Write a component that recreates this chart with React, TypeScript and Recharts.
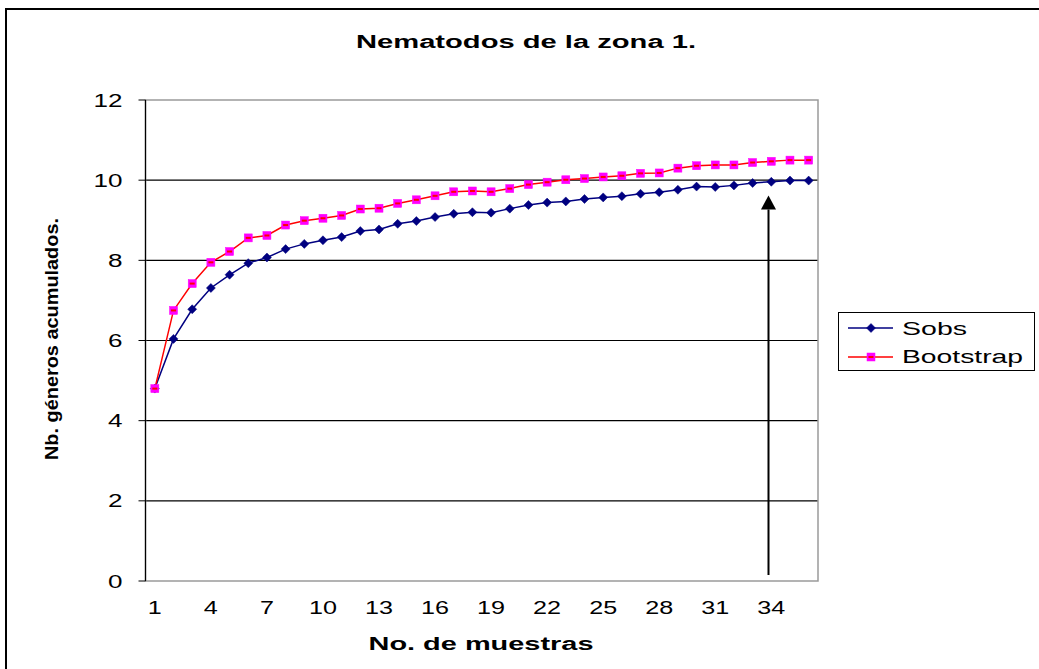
import React from 'react';
import {
  LineChart,
  Line,
  XAxis,
  YAxis,
  CartesianGrid,
  Legend,
  ReferenceLine,
  ReferenceDot,
  ReferenceArea,
  Label,
} from 'recharts';

const samples = [
  1, 2, 3, 4, 5, 6, 7, 8, 9, 10, 11, 12, 13, 14, 15, 16, 17, 18,
  19, 20, 21, 22, 23, 24, 25, 26, 27, 28, 29, 30, 31, 32, 33, 34, 35, 36,
];
const sobs = [
  4.8, 6.04, 6.78, 7.31, 7.64, 7.93, 8.07, 8.28, 8.41, 8.5, 8.58, 8.73,
  8.77, 8.91, 8.98, 9.08, 9.16, 9.2, 9.19, 9.29, 9.38, 9.44, 9.47, 9.53,
  9.57, 9.6, 9.66, 9.7, 9.76, 9.84, 9.83, 9.87, 9.93, 9.96, 9.99, 9.99,
];
const bootstrap = [
  4.8, 6.75, 7.42, 7.95, 8.22, 8.56, 8.62, 8.88, 8.99, 9.05, 9.12, 9.28,
  9.3, 9.42, 9.51, 9.61, 9.71, 9.73, 9.71, 9.79, 9.89, 9.95, 10.01, 10.04,
  10.08, 10.11, 10.17, 10.18, 10.3, 10.36, 10.38, 10.38, 10.44, 10.47, 10.5, 10.5,
];
const xTickLabels = [1, 4, 7, 10, 13, 16, 19, 22, 25, 28, 31, 34];
const yTicks = [0, 2, 4, 6, 8, 10, 12];
const gridValues = [2, 4, 6, 8, 10];
const arrowSample = 33.85;
const arrowBottom = 0.15;
const arrowHeadBase = 9.27;

const data = samples.map((s, i) => ({ x: s, sobs: sobs[i], bootstrap: bootstrap[i] }));
const boundaryTicks = samples.map((s) => s - 0.5).concat([samples[samples.length - 1] + 0.5]);

const FONT = '"Liberation Sans", Arial, sans-serif';
const NAVY = '#000080';
const RED = '#FF0000';
const MAGENTA = '#FF00FF';

const Diamond = (props: any) => {
  const { cx, cy } = props;
  if (cx == null || cy == null) return null;
  const r = 4.5;
  return (
    <polygon
      points={`${cx},${cy - r} ${cx + r},${cy} ${cx},${cy + r} ${cx - r},${cy}`}
      fill={NAVY}
      stroke={NAVY}
      strokeWidth={0.5}
    />
  );
};

const Square = (props: any) => {
  const { cx, cy } = props;
  if (cx == null || cy == null) return null;
  return (
    <g>
      <rect x={cx - 4} y={cy - 4} width={8} height={8} fill={MAGENTA} stroke={MAGENTA} strokeWidth={0.5} />
      <rect x={cx - 2.5} y={cy - 1} width={5} height={2} fill={RED} />
    </g>
  );
};

const ArrowHead = (props: any) => {
  const { cx, cy } = props;
  if (cx == null || cy == null) return null;
  return <polygon points={`${cx - 7.5},${cy} ${cx + 7.5},${cy} ${cx},${cy - 14}`} fill="#000" />;
};

const YTick = (props: any) => {
  const { x, y, payload } = props;
  const s = String(payload.value);
  return (
    <text
      x={x}
      y={y + 6.5}
      textAnchor="end"
      fontFamily={FONT}
      fontSize={18}
      fill="#000"
      textLength={s.length * 14.5}
      lengthAdjust="spacingAndGlyphs"
    >
      {s}
    </text>
  );
};

const XTick = (props: any) => {
  const { x, y, payload } = props;
  const s = String(payload.value);
  return (
    <text
      x={x}
      y={y + 33}
      textAnchor="middle"
      fontFamily={FONT}
      fontSize={18}
      fill="#000"
      textLength={s.length * 14}
      lengthAdjust="spacingAndGlyphs"
    >
      {s}
    </text>
  );
};

const LegendBox = () => (
  <svg width={197} height={59} style={{ display: 'block' }}>
    <rect x={0.5} y={0.5} width={196} height={58} fill="#fff" stroke="#000" strokeWidth={1} />
    <line x1={10} y1={16} x2={55} y2={16} stroke={NAVY} strokeWidth={1.5} />
    <Diamond cx={33} cy={16} />
    <text x={64} y={23} fontFamily={FONT} fontSize={18} fill="#000" textLength={65} lengthAdjust="spacingAndGlyphs">
      Sobs
    </text>
    <line x1={10} y1={45} x2={55} y2={45} stroke={RED} strokeWidth={1.5} />
    <Square cx={33} cy={45} />
    <text x={64} y={51} fontFamily={FONT} fontSize={18} fill="#000" textLength={121} lengthAdjust="spacingAndGlyphs">
      Bootstrap
    </text>
  </svg>
);

export default function App() {
  return (
    <div
      style={{
        position: 'fixed',
        left: 0,
        top: 0,
        width: 1039,
        height: 669,
        overflow: 'hidden',
        background: '#fff',
      }}
    >
      <div
        style={{
          position: 'absolute',
          left: 5,
          top: 8,
          width: 1060,
          height: 700,
          border: '2px solid #000',
          boxSizing: 'border-box',
        }}
      />
      <svg style={{ position: 'absolute', left: 0, top: 0 }} width={1039} height={80}>
        <text
          x={526}
          y={48}
          textAnchor="middle"
          fontFamily={FONT}
          fontWeight="bold"
          fontSize={18}
          fill="#000"
          textLength={340}
          lengthAdjust="spacingAndGlyphs"
        >
          Nematodos de la zona 1.
        </text>
      </svg>
      <div style={{ position: 'absolute', left: 0, top: 0 }}>
        <LineChart
          width={1039}
          height={669}
          data={data}
          margin={{ top: 100, right: 221, bottom: 48, left: 85.5 }}
        >
          <ReferenceArea
            x1={0.5}
            x2={36.5}
            y1={0}
            y2={12}
            xAxisId="marks"
            fill="none"
            stroke="#9a9a9a"
            strokeWidth={1.5}
            ifOverflow="visible"
          />
          <CartesianGrid
            horizontal
            vertical={false}
            stroke="#000"
            strokeWidth={1.2}
            horizontalValues={gridValues}
            xAxisId="marks"
          />
          <XAxis
            xAxisId="marks"
            dataKey="x"
            type="number"
            domain={[0.5, 36.5]}
            ticks={boundaryTicks}
            interval={0}
            height={0}
            tick={false}
            tickSize={6}
            axisLine={{ stroke: '#000', strokeWidth: 1.2 }}
            tickLine={{ stroke: '#000', strokeWidth: 1 }}
          />
          <XAxis
            xAxisId="labels"
            dataKey="x"
            type="number"
            domain={[0.5, 36.5]}
            ticks={xTickLabels}
            interval={0}
            height={40}
            tickSize={0}
            tickMargin={0}
            axisLine={false}
            tickLine={false}
            tick={<XTick />}
          >
            <Label
              content={() => (
                <text
                  x={481}
                  y={650}
                  textAnchor="middle"
                  fontFamily={FONT}
                  fontWeight="bold"
                  fontSize={18}
                  fill="#000"
                  textLength={225}
                  lengthAdjust="spacingAndGlyphs"
                >
                  No. de muestras
                </text>
              )}
            />
          </XAxis>
          <YAxis
            type="number"
            domain={[0, 12]}
            ticks={yTicks}
            interval={0}
            width={60}
            tickSize={7}
            tickMargin={16}
            axisLine={{ stroke: '#000', strokeWidth: 1.2 }}
            tickLine={{ stroke: '#000', strokeWidth: 1 }}
            tick={<YTick />}
          >
            <Label
              content={() => (
                <text
                  x={58}
                  y={339}
                  transform="rotate(-90, 58, 339)"
                  textAnchor="middle"
                  fontFamily={FONT}
                  fontWeight="bold"
                  fontSize={18}
                  fill="#000"
                  textLength={242}
                  lengthAdjust="spacingAndGlyphs"
                >
                  Nb. géneros acumulados.
                </text>
              )}
            />
          </YAxis>
          <ReferenceLine
            xAxisId="labels"
            segment={[
              { x: arrowSample, y: arrowBottom },
              { x: arrowSample, y: arrowHeadBase },
            ]}
            stroke="#000"
            strokeWidth={2}
          />
          <ReferenceDot
            xAxisId="labels"
            x={arrowSample}
            y={arrowHeadBase}
            r={8}
            shape={<ArrowHead />}
          />
          <Line
            xAxisId="labels"
            type="linear"
            dataKey="sobs"
            name="Sobs"
            stroke={NAVY}
            strokeWidth={1.5}
            dot={<Diamond />}
            activeDot={false}
            isAnimationActive={false}
          />
          <Line
            xAxisId="labels"
            type="linear"
            dataKey="bootstrap"
            name="Bootstrap"
            stroke={RED}
            strokeWidth={1.5}
            dot={<Square />}
            activeDot={false}
            isAnimationActive={false}
          />
          <Legend
            layout="horizontal"
            verticalAlign="middle"
            align="center"
            content={() => <LegendBox />}
            wrapperStyle={{ left: 838, top: 312, width: 197, height: 59, position: 'absolute' }}
          />
        </LineChart>
      </div>
    </div>
  );
}
